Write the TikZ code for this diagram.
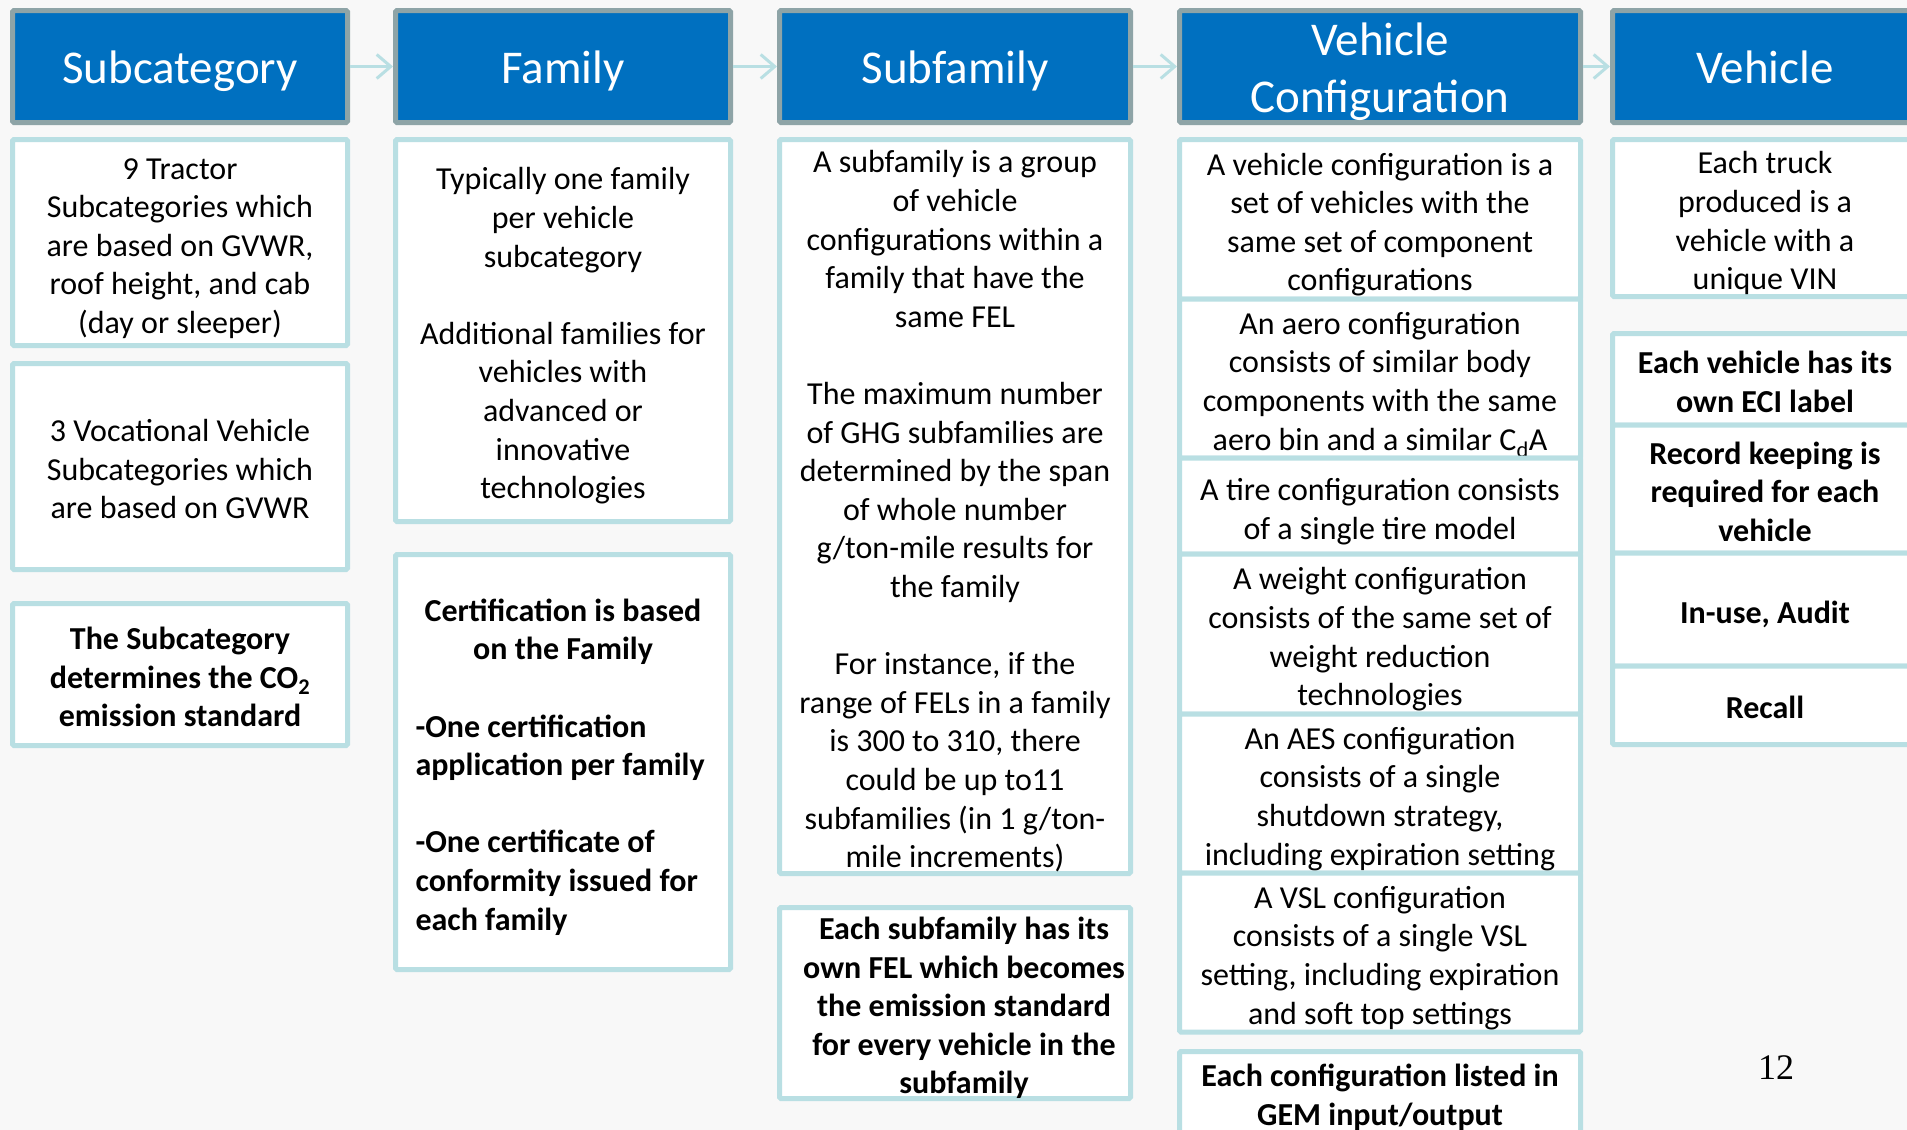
\documentclass[tikz,border=0pt]{standalone}
\usepackage{fontspec}
\setmainfont{Carlito}
\newfontfamily\pagenumfont{Liberation Serif}
\usepackage{xcolor}
\usetikzlibrary{arrows.meta}

\definecolor{headblue}{HTML}{0070C0}
\definecolor{headrim}{HTML}{8EA4A7}
\definecolor{boxrim}{HTML}{B9DFE3}
\definecolor{pagegray}{HTML}{F8F8F8}

\newcommand{\headstrut}{\rule{0pt}{52pt}}
\newcommand{\bodystrut}{\rule{0pt}{39pt}}

\begin{document}
\begin{tikzpicture}[x=1pt, y=-1pt,
	head/.style={draw=headrim, line width=5pt, fill=headblue, text=white, anchor=north west, inner xsep=0pt, inner ysep=-10pt, outer sep=2.5pt, minimum height=112pt, rounded corners=1.5pt, align=center, font=\fontsize{47}{57}\selectfont, execute at end node=\rule[-17.1pt]{0pt}{0pt}},
	plainbox/.style={draw=boxrim, line width=5pt, fill=white, anchor=north west, inner xsep=0pt, inner ysep=-10pt, outer sep=2.5pt, rounded corners=1.5pt, font=\fontsize{32}{38.6}\selectfont},
	infobox/.style={plainbox, align=center, execute at end node=\rule[-11.6pt]{0pt}{0pt}},
	boldbox/.style={infobox, font=\fontsize{32}{38.6}\selectfont\bfseries},
	link/.style={draw=boxrim, line width=3pt, -{Straight Barb[length=14pt, width=24pt]}}]
	\fill[pagegray, use as bounding box] (0,0) rectangle (1907,1130);
	\clip (0,0) rectangle (1907,1130);

	\node[head, minimum width=335pt] (hsub) at (10,8) {\headstrut Subcategory};
	\node[head, minimum width=335pt] (hfam) at (393,8) {\headstrut Family};
	\node[head, minimum width=351pt] (hsubf) at (777,8) {\headstrut Subfamily};
	\node[head, minimum width=401pt] (hconf) at (1177,8) {\headstrut Vehicle\\Configuration};
	\node[head, minimum width=305pt] (hveh) at (1610,8) {\headstrut Vehicle};

	\draw[link] (hsub) -- (hfam);
	\draw[link] (hfam) -- (hsubf);
	\draw[link] (hsubf) -- (hconf);
	\draw[link] (hconf) -- (hveh);

	\node[infobox, minimum width=335pt, minimum height=206pt] (tractor) at (10,137) {\bodystrut 9 Tractor\\Subcategories which\\are based on GVWR,\\roof height, and cab\\(day or sleeper)};
	\node[infobox, minimum width=335pt, minimum height=206pt] (vocational) at (10,361) {\bodystrut 3 Vocational Vehicle\\Subcategories which\\are based on GVWR};
	\node[boldbox, minimum width=335pt, minimum height=142pt] (substd) at (10,601) {\bodystrut The Subcategory\\determines the CO\textsubscript{2}\\emission standard};

	\node[infobox, minimum width=335pt, minimum height=382pt] (famtext) at (393,137) {\bodystrut Typically one family\\per vehicle\\subcategory\\[38.6pt]Additional families for\\vehicles with\\advanced or\\innovative\\technologies};
	\node[plainbox, font=\fontsize{32}{38.6}\selectfont\bfseries, minimum width=335pt, minimum height=415pt, text width=295pt, align=none] (famcert) at (393,552) {\centering\bodystrut Certification is based\\on the Family\par\vspace{38.6pt}\raggedright -One certification\\application per family\\[38.6pt]-One certificate of\\conformity issued for\\each family\rule[-11.6pt]{0pt}{0pt}\par};

	\node[infobox, minimum width=351pt, minimum height=734pt] (subftext) at (777,137) {\bodystrut A subfamily is a group\\of vehicle\\configurations within a\\family that have the\\same FEL\\[38.6pt]The maximum number\\of GHG subfamilies are\\determined by the span\\of whole number\\g/ton-mile results for\\the family\\[38.6pt]For instance, if the\\range of FELs in a family\\is 300 to 310, there\\could be up to11\\subfamilies (in 1 g/ton-\\mile increments)};
	\node[boldbox, minimum width=351pt, minimum height=191pt] (subfstd) at (777,905) {\bodystrut\hspace*{18pt}Each subfamily has its\\\hspace*{18pt}own FEL which becomes\\\hspace*{18pt}the emission standard\\\hspace*{18pt}for every vehicle in the\\\hspace*{18pt}subfamily};

	\node[infobox, minimum width=401pt, minimum height=159.5pt] (confset) at (1177,137) {\bodystrut A vehicle configuration is a\\set of vehicles with the\\same set of component\\configurations};
	\node[infobox, minimum width=401pt, minimum height=159pt] (confaero) at (1177,296.5) {\bodystrut An aero configuration\\consists of similar body\\components with the same\\aero bin and a similar C\textsubscript{d}A};
	\node[infobox, minimum width=401pt, minimum height=96pt] (conftire) at (1177,455.5) {\bodystrut A tire configuration consists\\of a single tire model};
	\node[infobox, minimum width=401pt, minimum height=160pt] (confweight) at (1177,551.5) {\bodystrut A weight configuration\\consists of the same set of\\weight reduction\\technologies};
	\node[infobox, minimum width=401pt, minimum height=159pt] (confaes) at (1177,711.5) {\bodystrut An AES configuration\\consists of a single\\shutdown strategy,\\including expiration setting};
	\node[infobox, minimum width=401pt, minimum height=159pt] (confvsl) at (1177,870.5) {\bodystrut A VSL configuration\\consists of a single VSL\\setting, including expiration\\and soft top settings};
	\node[boldbox, minimum width=401pt, minimum height=82pt] (confgem) at (1177,1049) {\bodystrut Each configuration listed in\\GEM input/output};

	\node[infobox, minimum width=305pt, minimum height=157pt] (vehvin) at (1610,137) {\bodystrut Each truck\\produced is a\\vehicle with a\\unique VIN};
	\node[boldbox, minimum width=305pt, minimum height=91.5pt] (vehlabel) at (1610,331) {\bodystrut Each vehicle has its\\own ECI label};
	\node[boldbox, minimum width=305pt, minimum height=128pt] (vehrecord) at (1610,422.5) {\bodystrut Record keeping is\\required for each\\vehicle};
	\node[boldbox, minimum width=305pt, minimum height=113pt] (vehaudit) at (1610,550.5) {\bodystrut In-use, Audit};
	\node[boldbox, minimum width=305pt, minimum height=78.5pt] (vehrecall) at (1610,663.5) {\bodystrut Recall};

	\node[font=\pagenumfont\fontsize{36}{40}\selectfont] (pagenum) at (1776,1068) {12};
\end{tikzpicture}
\end{document}
